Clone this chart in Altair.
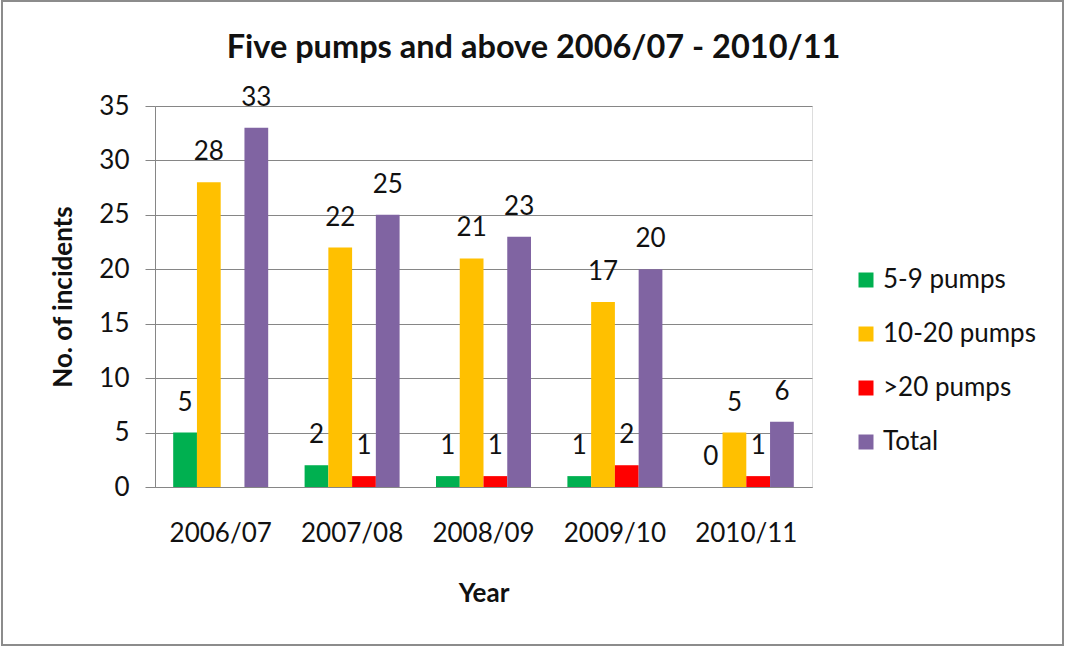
import altair as alt
import pandas as pd

years = ["2006/07", "2007/08", "2008/09", "2009/10", "2010/11"]
series = ["5-9 pumps", "10-20 pumps", ">20 pumps", "Total"]
pumps_5_9 = [5, 2, 1, 1, 0]
pumps_10_20 = [28, 22, 21, 17, 5]
pumps_over_20 = [None, 1, 1, 2, 1]
total = [33, 25, 23, 20, 6]
colors = ["#00B050", "#FFC000", "#FF0000", "#8064A2"]
y_ticks = [0, 5, 10, 15, 20, 25, 30, 35]

rows = []
for s, vals in zip(series, [pumps_5_9, pumps_10_20, pumps_over_20, total]):
    for yr, v in zip(years, vals):
        if v is not None:
            rows.append({"year": yr, "series": s, "value": v})
df = pd.DataFrame(rows)

FONT = "Lato"
GRID = "#868686"
TXT = "#111111"

x_enc = alt.X(
    "year:N", sort=years,
    scale=alt.Scale(paddingInner=0.277, paddingOuter=0.1385),
    axis=alt.Axis(title="Year", labelAngle=0, ticks=False, domainColor=GRID,
                  labelFont=FONT, labelFontSize=26, labelColor=TXT, labelPadding=33,
                  titleFont=FONT, titleFontSize=26, titleFontWeight="bold",
                  titleColor=TXT, titlePadding=34),
)
y_enc = alt.Y(
    "value:Q",
    scale=alt.Scale(domain=[0, 35]),
    axis=alt.Axis(title="No. of incidents", values=y_ticks, grid=True, gridColor=GRID,
                  tickSize=10, tickColor=GRID, domainColor=GRID,
                  labelFont=FONT, labelFontSize=26, labelColor=TXT, labelPadding=16,
                  titleFont=FONT, titleFontSize=26, titleFontWeight="bold",
                  titleColor=TXT, titlePadding=22),
)
xo = alt.XOffset("series:N", sort=series,
                 scale=alt.Scale(domain=series, paddingInner=0, paddingOuter=0))

bars = alt.Chart(df).mark_bar().encode(
    x=x_enc, y=y_enc, xOffset=xo,
    color=alt.Color("series:N", sort=series,
                    scale=alt.Scale(domain=series, range=colors),
                    legend=alt.Legend(title=None, orient="none", legendX=698, legendY=161,
                                      symbolType="square", symbolSize=225,
                                      symbolStrokeWidth=0, labelFont=FONT,
                                      labelFontSize=26, labelColor=TXT, rowPadding=28,
                                      labelOffset=4)),
)

labels = alt.Chart(df).mark_text(dy=-22, baseline="alphabetic", font=FONT,
                                 fontSize=26, color=TXT).encode(
    x=alt.X("year:N", sort=years), y="value:Q", xOffset=xo, text="value:Q"
)

border = alt.Chart(pd.DataFrame({"a": [0]})).mark_rect(
    fillOpacity=0, stroke="#8c8c8c", strokeWidth=2
).encode(x=alt.value(-153), x2=alt.value(908), y=alt.value(-105), y2=alt.value(539))

chart = alt.layer(border, bars, labels).properties(
    width=657, height=381,
    title=alt.TitleParams("Five pumps and above 2006/07 - 2010/11", font=FONT,
                          fontSize=32.5, fontWeight="bold", color=TXT,
                          anchor="middle", dx=50, dy=64, offset=0),
    autosize=alt.AutoSizeParams(type="none"),
    padding={"left": 155, "top": 106, "right": 257, "bottom": 159},
).configure_view(stroke=None).configure(background="white")

chart.save("out.html", embed_options={"renderer": "svg", "actions": False})
